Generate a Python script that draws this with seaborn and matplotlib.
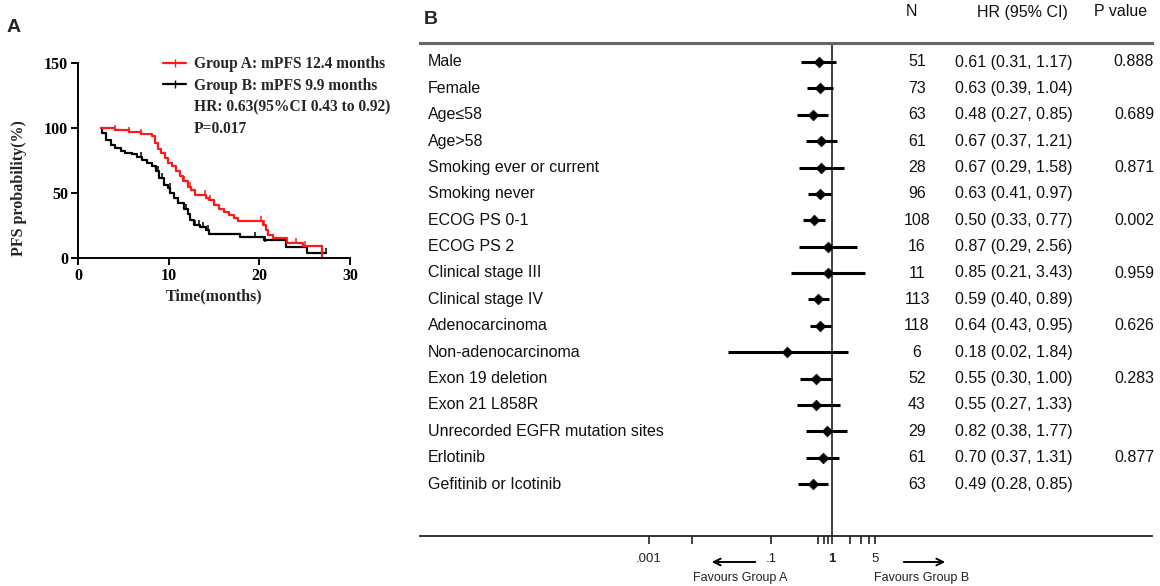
import numpy as np
import pandas as pd
import matplotlib
matplotlib.use("Agg")
import matplotlib.pyplot as plt
import matplotlib.transforms as mtransforms
from matplotlib.lines import Line2D
import seaborn as sns

# ---------------- data ----------------
# Kaplan-Meier (step points: time, survival after step)
km_a_time = [2.5, 4.1, 5.6, 7.0, 8.2, 8.5, 8.8, 9.2, 9.6, 9.9, 10.4, 10.8, 11.2, 11.6, 12.1, 12.5,
             12.9, 14.1, 14.5, 15.0, 15.6, 16.1, 16.7, 17.2, 17.6, 20.4, 20.7, 21.0, 21.5, 23.0,
             24.8, 26.9]
km_a_surv = [100, 98.4, 96.8, 95.2, 93.5, 88.7, 84.0, 81.0, 77.0, 73.0, 70.5, 66.7, 62.8, 59.0,
             55.0, 52.5, 48.6, 46.0, 44.7, 40.8, 38.0, 35.7, 33.0, 30.5, 28.2, 25.3, 21.4, 18.0,
             15.3, 11.9, 9.3, 0]
km_b_time = [2.5, 2.7, 3.1, 3.6, 4.1, 4.7, 5.2, 6.0, 6.5, 7.1, 7.6, 8.2, 8.6, 8.9, 9.5, 9.9,
             10.2, 10.6, 11.0, 11.7, 12.1, 12.4, 12.8, 13.5, 14.1, 14.5, 17.9, 20.5, 22.9, 25.3,
             27.4]
km_b_surv = [100, 96, 91, 87, 84.8, 82, 81, 80, 78, 75.7, 73, 70.5, 66.7, 61.5, 56, 53.7,
             50, 46, 42, 38, 34, 29, 25.3, 24, 21.4, 18.4, 16.1, 13.5, 8.3, 4.1, 4.1]
cens_a = [4.1, 5.6, 7.0, 9.2, 11.7, 12.4, 14.0, 14.6, 20.2, 20.5, 24.0, 25.0]
cens_b = [7.0, 8.8, 9.3, 10.1, 11.9, 12.9, 13.3, 13.8, 14.3, 19.5, 20.6, 25.3, 27.4]

legend_labels = ["Group A: mPFS 12.4 months", "Group B: mPFS 9.9 months",
                 "HR: 0.63(95%CI 0.43 to 0.92)", "P=0.017"]

# Forest plot
subgroups = ["Male", "Female", "Age\u226458", "Age>58", "Smoking ever or current", "Smoking never",
             "ECOG PS 0-1", "ECOG PS 2", "Clinical stage III", "Clinical stage IV",
             "Adenocarcinoma", "Non-adenocarcinoma", "Exon 19 deletion", "Exon 21 L858R",
             "Unrecorded EGFR mutation sites", "Erlotinib", "Gefitinib or Icotinib"]
n_pat = [51, 73, 63, 61, 28, 96, 108, 16, 11, 113, 118, 6, 52, 43, 29, 61, 63]
hr = [0.61, 0.63, 0.48, 0.67, 0.67, 0.63, 0.50, 0.87, 0.85, 0.59, 0.64, 0.18, 0.55, 0.55, 0.82, 0.70, 0.49]
hr_lo = [0.31, 0.39, 0.27, 0.37, 0.29, 0.41, 0.33, 0.29, 0.21, 0.40, 0.43, 0.02, 0.30, 0.27, 0.38, 0.37, 0.28]
hr_hi = [1.17, 1.04, 0.85, 1.21, 1.58, 0.97, 0.77, 2.56, 3.43, 0.89, 0.95, 1.84, 1.00, 1.33, 1.77, 1.31, 0.85]
p_values = ["0.888", "", "0.689", "", "0.871", "", "0.002", "", "0.959", "", "0.626", "",
            "0.283", "", "", "0.877", ""]
x_ticks = [0.001, 0.005, 0.1, 0.6, 0.74, 0.87, 1, 2, 3, 4, 5]
x_ticklabels = [".001", "", ".1", "", "", "", "1", "", "", "", "5"]

# ---------------- style ----------------
sns.set_theme(style="white")
plt.rcParams['font.family'] = ['Liberation Sans', 'DejaVu Sans']

W, H = 1160, 586
fig = plt.figure(figsize=(W / 100, H / 100), dpi=100)


def fx(px):
    return px / W


def fy(py):
    return 1 - py / H


serif_b = dict(family=['Liberation Serif', 'DejaVu Serif'], weight='bold')

# ---------------- Panel A ----------------
axA = fig.add_axes([fx(78), fy(258), (350 - 78) / W, (258 - 63) / H])
dfa = pd.DataFrame({"t": km_a_time, "s": km_a_surv})
dfb = pd.DataFrame({"t": km_b_time, "s": km_b_surv})
sns.lineplot(data=dfb, x="t", y="s", ax=axA, color="black", lw=1.6, drawstyle="steps-post",
             estimator=None, sort=False, clip_on=False)
sns.lineplot(data=dfa, x="t", y="s", ax=axA, color="#ff1a1a", lw=1.6, drawstyle="steps-post",
             estimator=None, sort=False, clip_on=False)


def surv_at(times, survs, t):
    idx = np.searchsorted(np.array(times), t, side="right") - 1
    return np.array(survs)[np.clip(idx, 0, len(survs) - 1)]


axA.scatter(cens_b, surv_at(km_b_time, km_b_surv, np.array(cens_b)) + 1.5, marker="|",
            color="black", s=24, lw=1.1, clip_on=False, zorder=3)
axA.scatter(cens_a, surv_at(km_a_time, km_a_surv, np.array(cens_a)) + 1.5, marker="|",
            color="#ff1a1a", s=24, lw=1.1, clip_on=False, zorder=3)

axA.set_xlim(0, 30)
axA.set_ylim(0, 150)
axA.set_xticks([0, 10, 20, 30])
axA.set_yticks([0, 50, 100, 150])
for s in ["top", "right"]:
    axA.spines[s].set_visible(False)
for s in ["left", "bottom"]:
    axA.spines[s].set_linewidth(1.4)
    axA.spines[s].set_color("black")
axA.tick_params(direction="out", length=5, width=1.4, colors="black", left=True, bottom=True,
                pad=2)
for lab in axA.get_xticklabels() + axA.get_yticklabels():
    lab.set_fontfamily(serif_b['family'])
    lab.set_fontweight('bold')
    lab.set_fontsize(11.5)
axA.set_xlabel("")
axA.set_ylabel("")
fig.text(fx(214), fy(296), "Time(months)", ha="center", va="center", fontsize=11.5, **serif_b)
fig.text(fx(19), fy(188), "PFS probability(%)", ha="center", va="center", rotation=90,
         fontsize=11.5, **serif_b)

handles = [Line2D([], [], color="#ff1a1a", lw=1.6, marker="|", markersize=6),
           Line2D([], [], color="black", lw=1.6, marker="|", markersize=6),
           Line2D([], [], color="none"), Line2D([], [], color="none")]
axA.legend(handles, legend_labels, loc="upper left", bbox_to_anchor=(fx(163), fy(56)),
           bbox_transform=fig.transFigure, frameon=False, handlelength=1.5, handletextpad=0.5,
           labelspacing=0.36, borderpad=0, borderaxespad=0, numpoints=1,
           prop=dict(family='Liberation Serif', weight='bold', size=11.2))

fig.text(fx(14), fy(27), "A", fontsize=14, fontweight="bold", ha="center", va="center")

# ---------------- Panel B ----------------
L, R, T, B = 420, 1152, 43, 536
x1 = 832
ppd = 61.0
axB = fig.add_axes([fx(L), fy(B), (R - L) / W, (B - T) / H])
axB.set_xscale("log")
axB.set_xlim(10 ** ((L - x1) / ppd), 10 ** ((R - x1) / ppd))
rows = np.arange(len(subgroups))
axB.set_ylim(16 + (B - 484) / 26.375, -(62 - T) / 26.375)

axB.hlines(rows, hr_lo, hr_hi, color="black", lw=2.2, zorder=2)
sns.scatterplot(x=hr, y=rows, ax=axB, marker="D", s=30, color="black", edgecolor="black",
                zorder=3, legend=False)
axB.axvline(1, color="#333333", lw=1.3, zorder=1)

for s in ["left", "right"]:
    axB.spines[s].set_visible(False)
axB.spines["top"].set_color("#666666")
axB.spines["top"].set_linewidth(2.2)
axB.spines["bottom"].set_color("#222222")
axB.spines["bottom"].set_linewidth(1.3)
axB.set_yticks([])
axB.xaxis.set_minor_locator(matplotlib.ticker.NullLocator())
axB.set_xticks(x_ticks)
axB.set_xticklabels(x_ticklabels)
axB.tick_params(axis="x", direction="out", length=6, width=1.2, colors="#222222", labelsize=9.5,
                pad=6, bottom=True)
for lab in axB.get_xticklabels():
    if lab.get_text() == "1":
        lab.set_fontweight("bold")

tr = mtransforms.blended_transform_factory(fig.transFigure, axB.transData)
for i in rows:
    fig.text(fx(428), i, subgroups[i], transform=tr, ha="left", va="center", fontsize=11.5,
             color="#111111")
    fig.text(fx(917), i, str(n_pat[i]), transform=tr, ha="center", va="center", fontsize=11.5,
             color="#111111")
    fig.text(fx(955), i, f"{hr[i]:.2f} ({hr_lo[i]:.2f}, {hr_hi[i]:.2f})", transform=tr,
             ha="left", va="center", fontsize=11.5, color="#111111")
    if p_values[i]:
        fig.text(fx(1134), i, p_values[i], transform=tr, ha="center", va="center",
                 fontsize=11.5, color="#111111")

fig.text(fx(911), fy(12), "N", ha="center", va="center", fontsize=11.5, color="#111111")
fig.text(fx(1022), fy(12), "HR (95% CI)", ha="center", va="center", fontsize=11.5,
         color="#111111")
fig.text(fx(1121), fy(12), "P value", ha="center", va="center", fontsize=11.5, color="#111111")
fig.text(fx(431), fy(20), "B", fontsize=14, fontweight="bold", ha="center", va="center")

arrow = dict(arrowstyle="->", lw=1.4, color="black", mutation_scale=12)
fig.add_artist(matplotlib.patches.FancyArrowPatch((fx(758), fy(562)), (fx(709), fy(562)),
                                                  transform=fig.transFigure, **arrow))
fig.add_artist(matplotlib.patches.FancyArrowPatch((fx(901), fy(562)), (fx(948), fy(562)),
                                                  transform=fig.transFigure, **arrow))
fig.text(fx(740), fy(578), "Favours Group A", ha="center", va="center", fontsize=9,
         color="#222222")
fig.text(fx(922), fy(578), "Favours Group B", ha="center", va="center", fontsize=9,
         color="#222222")

fig.savefig("out.png", dpi=100)
